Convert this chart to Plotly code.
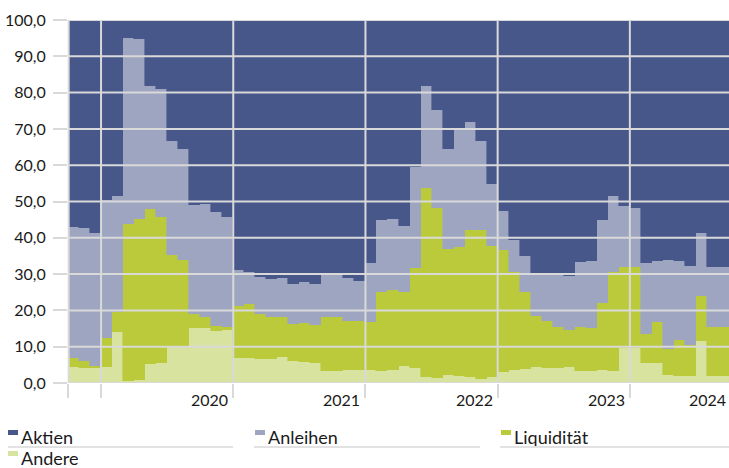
import plotly.graph_objects as go

# ---- data (monthly shares in %, Oct 2019 .. Sep 2024) ----
months = [
    "2019-10", "2019-11", "2019-12",
    "2020-01", "2020-02", "2020-03", "2020-04", "2020-05", "2020-06",
    "2020-07", "2020-08", "2020-09", "2020-10", "2020-11", "2020-12",
    "2021-01", "2021-02", "2021-03", "2021-04", "2021-05", "2021-06",
    "2021-07", "2021-08", "2021-09", "2021-10", "2021-11", "2021-12",
    "2022-01", "2022-02", "2022-03", "2022-04", "2022-05", "2022-06",
    "2022-07", "2022-08", "2022-09", "2022-10", "2022-11", "2022-12",
    "2023-01", "2023-02", "2023-03", "2023-04", "2023-05", "2023-06",
    "2023-07", "2023-08", "2023-09", "2023-10", "2023-11", "2023-12",
    "2024-01", "2024-02", "2024-03", "2024-04", "2024-05", "2024-06",
    "2024-07", "2024-08", "2024-09",
]

andere = [4.3, 4.2, 4.0, 4.4, 14.1, 0.5, 0.7, 5.3, 5.5, 9.8, 9.8, 15.1,
          15.1, 14.4, 14.7, 7.0, 6.9, 6.7, 6.7, 7.1, 6.1, 5.7, 5.5, 3.4,
          3.4, 3.7, 3.5, 3.6, 3.4, 3.5, 4.6, 4.1, 1.6, 1.4, 2.3, 1.8,
          1.6, 1.2, 1.6, 2.9, 3.5, 3.9, 4.4, 4.1, 4.1, 4.4, 3.4, 3.4,
          3.7, 3.4, 9.7, 9.7, 5.5, 5.5, 2.3, 2.0, 1.9, 11.7, 2.0, 2.0]

liquiditaet = [2.7, 1.9, 0.7, 8.1, 5.5, 43.2, 44.4, 42.5, 40.3, 25.4, 24.1, 3.8,
               3.2, 1.4, 0.8, 14.2, 14.8, 12.4, 11.6, 11.2, 10.1, 10.9, 10.4, 14.9,
               14.9, 13.5, 13.5, 13.2, 21.6, 22.1, 20.4, 27.6, 52.1, 46.8, 34.7, 35.6,
               40.6, 41.0, 36.2, 33.8, 27.1, 21.3, 14.0, 12.9, 11.3, 10.3, 11.9, 11.7,
               18.3, 27.3, 22.2, 22.2, 8.1, 11.3, 7.0, 9.9, 8.7, 12.3, 13.3, 13.3]

anleihen = [36.1, 36.5, 36.7, 37.9, 31.9, 51.4, 49.7, 34.0, 35.2, 31.5, 30.5, 30.1,
            31.0, 31.4, 30.1, 9.9, 8.9, 10.2, 10.4, 10.6, 11.0, 11.2, 11.3, 11.5,
            11.7, 11.7, 11.2, 16.2, 20.0, 19.6, 18.3, 27.9, 28.1, 27.0, 27.4, 32.6,
            29.6, 24.5, 17.0, 10.7, 8.7, 9.7, 11.5, 12.8, 14.4, 14.7, 18.0, 18.4,
            23.0, 20.9, 16.9, 16.4, 19.4, 16.7, 24.5, 21.6, 21.7, 17.3, 16.7, 16.7]

aktien = [56.9, 57.4, 58.6, 49.6, 48.5, 4.9, 5.2, 18.2, 19.0, 33.3, 35.6, 51.0,
          50.7, 52.8, 54.4, 68.9, 69.4, 70.7, 71.3, 71.1, 72.8, 72.2, 72.8, 70.2,
          70.0, 71.1, 71.8, 67.0, 55.0, 54.8, 56.7, 40.4, 18.2, 24.8, 35.6, 30.0,
          28.2, 33.3, 45.2, 52.6, 60.7, 65.1, 70.1, 70.2, 70.2, 70.6, 66.7, 66.5,
          55.0, 48.4, 51.2, 51.7, 67.0, 66.5, 66.2, 66.5, 67.7, 58.7, 68.0, 68.0]

year_labels = ["2020", "2021", "2022", "2023", "2024"]
y_ticks = [0, 10, 20, 30, 40, 50, 60, 70, 80, 90, 100]

# ---- style ----
C_AKT = "#475789"
C_ANL = "#9ea5c0"
C_LIQ = "#baca3a"
C_AND = "#d8e3a0"
GRID = "#d9d9d9"
TXT = "#1a1a1a"
FONT = "Lato, 'Liberation Sans', sans-serif"

W, H = 729, 468
ML, MR, MT, MB = 68, 0, 20, 85
PW, PH = W - ML - MR, H - MT - MB

x = list(range(len(months)))
year_bounds = [2.5, 14.5, 26.5, 38.5, 50.5]
label_pos = [14.5, 26.5, 38.5, 50.5, 59.5]

fig = go.Figure()
series = [("Andere", andere, C_AND), ("Liquidität", liquiditaet, C_LIQ),
          ("Anleihen", anleihen, C_ANL), ("Aktien", aktien, C_AKT)]
for name, vals, col in series:
    fig.add_trace(go.Bar(x=x, y=vals, name=name, customdata=months,
                         marker=dict(color=col, line=dict(width=0.6, color=col)),
                         hovertemplate="%{customdata}: %{y:.1f}<extra>" + name + "</extra>",
                         showlegend=False))

fig.update_layout(
    width=W, height=H, margin=dict(l=ML, r=MR, t=MT, b=MB, autoexpand=False),
    barmode="stack", bargap=0,
    plot_bgcolor="white", paper_bgcolor="white",
    separators=",.", showlegend=False,
    font=dict(family=FONT, size=16, color=TXT),
)
fig.update_xaxes(range=[-0.5, len(months) - 0.5], showgrid=False, zeroline=False,
                 showline=False, tickmode="array", tickvals=[-0.5] + year_bounds,
                 ticks="outside", ticklen=14, tickwidth=2, tickcolor=GRID,
                 showticklabels=False, automargin=False)
fig.update_yaxes(range=[0, 100], tickmode="array", tickvals=y_ticks, tickformat=".1f",
                 ticks="outside", ticklen=14, tickwidth=2, tickcolor=GRID,
                 showgrid=False, zeroline=False, showline=False, automargin=False,
                 ticklabelstandoff=4, tickfont=dict(size=16, color=TXT))

shapes = []
for v in y_ticks:
    shapes.append(dict(type="line", xref="paper", yref="y", x0=0, x1=1, y0=v, y1=v,
                       line=dict(color=GRID, width=2), layer="above"))
for b in year_bounds:
    shapes.append(dict(type="line", xref="x", yref="paper", x0=b, x1=b, y0=0, y1=1,
                       line=dict(color=GRID, width=2), layer="above"))
shapes.append(dict(type="line", xref="paper", yref="paper", x0=0.001, x1=0.001, y0=0, y1=1,
                   line=dict(color=GRID, width=2), layer="above"))

annotations = []
for lab, pos in zip(year_labels, label_pos):
    annotations.append(dict(text=lab, x=pos, xref="x", xanchor="right",
                            xshift=-3 if pos < len(months) - 1 else -1,
                            y=0, yref="paper", yanchor="middle", yshift=-16,
                            showarrow=False, font=dict(size=16, color=TXT)))

# ---- manual legend ----
def px(xp):
    return (xp - ML) / PW

def py(yp):
    return (H - MB - yp) / PH

legend_items = [("Aktien", C_AKT, 8, 437), ("Anleihen", C_ANL, 255, 437),
                ("Liquidität", C_LIQ, 501, 437), ("Andere", C_AND, 8, 458)]
for name, col, lx, ly in legend_items:
    shapes.append(dict(type="rect", xref="paper", yref="paper",
                       x0=px(lx), x1=px(lx + 10), y0=py(ly - 7), y1=py(ly - 2),
                       fillcolor=col, line=dict(width=0)))
    annotations.append(dict(text=name, x=px(lx + 11), xref="paper", xanchor="left",
                            y=py(ly), yref="paper", yanchor="middle", height=18,
                            showarrow=False, font=dict(size=18, color=TXT)))
for x0, x1 in [(8, 233), (254, 480), (500, 729)]:
    shapes.append(dict(type="line", xref="paper", yref="paper",
                       x0=px(x0), x1=px(x1), y0=py(447), y1=py(447),
                       line=dict(color=GRID, width=1.5)))

fig.update_layout(shapes=shapes, annotations=annotations)
fig.write_html("out.html", config={"displayModeBar": False},
               post_script="document.body.style.margin='0';document.body.style.overflow='hidden';")
